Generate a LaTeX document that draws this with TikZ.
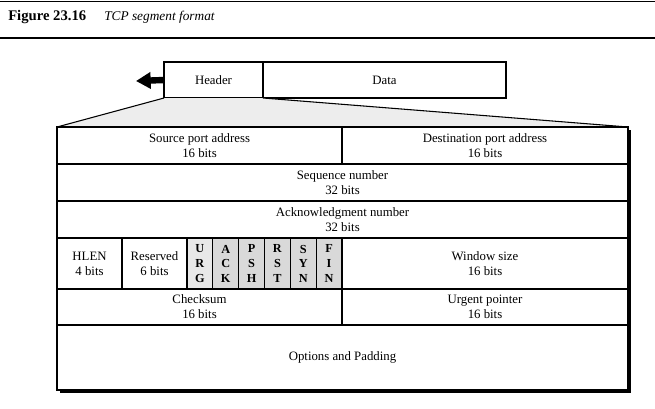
\documentclass[tikz,border=0pt]{standalone}
\usepackage{fontspec}
\setmainfont{Liberation Serif}
\usetikzlibrary{arrows.meta}
\begin{document}
\begin{tikzpicture}[x=0.75pt,y=-0.75pt,
 cell/.style={draw, line width=0.8pt, fill=white, inner sep=0pt, outer sep=0pt, align=center, font=\fontsize{9.6}{11.3}\selectfont},
 flagcell/.style={cell, fill=gray!30, minimum width=19.375pt, minimum height=38.25pt, font=\bfseries\fontsize{9.2}{10.9}\selectfont},
 rulerline/.style={line width=1.2pt},
 titlebold/.style={anchor=base west, inner sep=0pt, font=\bfseries\fontsize{11}{13}\selectfont},
 titleital/.style={anchor=base west, inner sep=0pt, font=\itshape\fontsize{10}{12}\selectfont}]
\useasboundingbox (0,0) rectangle (655,408);
% title
\draw[rulerline] (0,1.5) -- (655,1.5);
\draw[rulerline] (0,38) -- (655,38);
\node[titlebold] (fig) at (8,20.5) {Figure 23.16};
\node[titleital] (cap) at (104,20.5) {TCP segment format};
% segment box
\node[cell, minimum width=74.25pt, minimum height=27pt] (hdr) at (213.5,80) {Header};
\node[cell, minimum width=182.25pt, minimum height=27pt] (data) at (384.5,80) {Data};
\coordinate (tip) at (136,81);
\draw[line width=4.8pt, -{Triangle[length=11pt,width=12pt]}] (hdr.west) -- (tip);
% expansion trapezoid
\coordinate (tl) at (57,127);
\coordinate (tr) at (628,127);
\fill[gray!14] (hdr.south west) -- (hdr.south east) -- (tr) -- (tl) -- cycle;
\draw[line width=0.8pt] (hdr.south west) -- (tl);
\draw[line width=0.8pt] (hdr.south east) -- (tr);
% shadow
\fill (60,130) rectangle (631,393);
% table
\node[cell, minimum width=213.75pt, minimum height=27.75pt] (src) at (199.5,145.5) {Source port address\\16 bits};
\node[cell, minimum width=214.5pt, minimum height=27.75pt] (dst) at (485,145.5) {Destination port address\\16 bits};
\node[cell, minimum width=428.25pt, minimum height=27.75pt] (seq) at (342.5,182.5) {Sequence number\\32 bits};
\node[cell, minimum width=428.25pt, minimum height=27.75pt] (ackn) at (342.5,219.5) {Acknowledgment number\\32 bits};
\node[cell, minimum width=48.75pt, minimum height=38.25pt] (hlen) at (89.5,263.5) {HLEN\\4 bits};
\node[cell, minimum width=48.75pt, minimum height=38.25pt] (res) at (154.5,263.5) {Reserved\\6 bits};
\node[flagcell, fill=gray!18] (furg) at (199.92,263.5) {U\\R\\G};
\node[flagcell] (fack) at (225.75,263.5) {A\\C\\K};
\node[flagcell] (fpsh) at (251.58,263.5) {P\\S\\H};
\node[flagcell] (frst) at (277.42,263.5) {R\\S\\T};
\node[flagcell] (fsyn) at (303.25,263.5) {S\\Y\\N};
\node[flagcell] (ffin) at (329.08,263.5) {F\\I\\N};
\node[cell, minimum width=214.5pt, minimum height=38.25pt] (win) at (485,263.5) {Window size\\16 bits};
\node[cell, minimum width=213.75pt, minimum height=27pt] (chk) at (199.5,307) {Checksum\\16 bits};
\node[cell, minimum width=214.5pt, minimum height=27pt] (urgp) at (485,307) {Urgent pointer\\16 bits};
\node[cell, minimum width=428.25pt, minimum height=48.75pt] (opt) at (342.5,357.5) {Options and Padding};
\end{tikzpicture}
\end{document}
